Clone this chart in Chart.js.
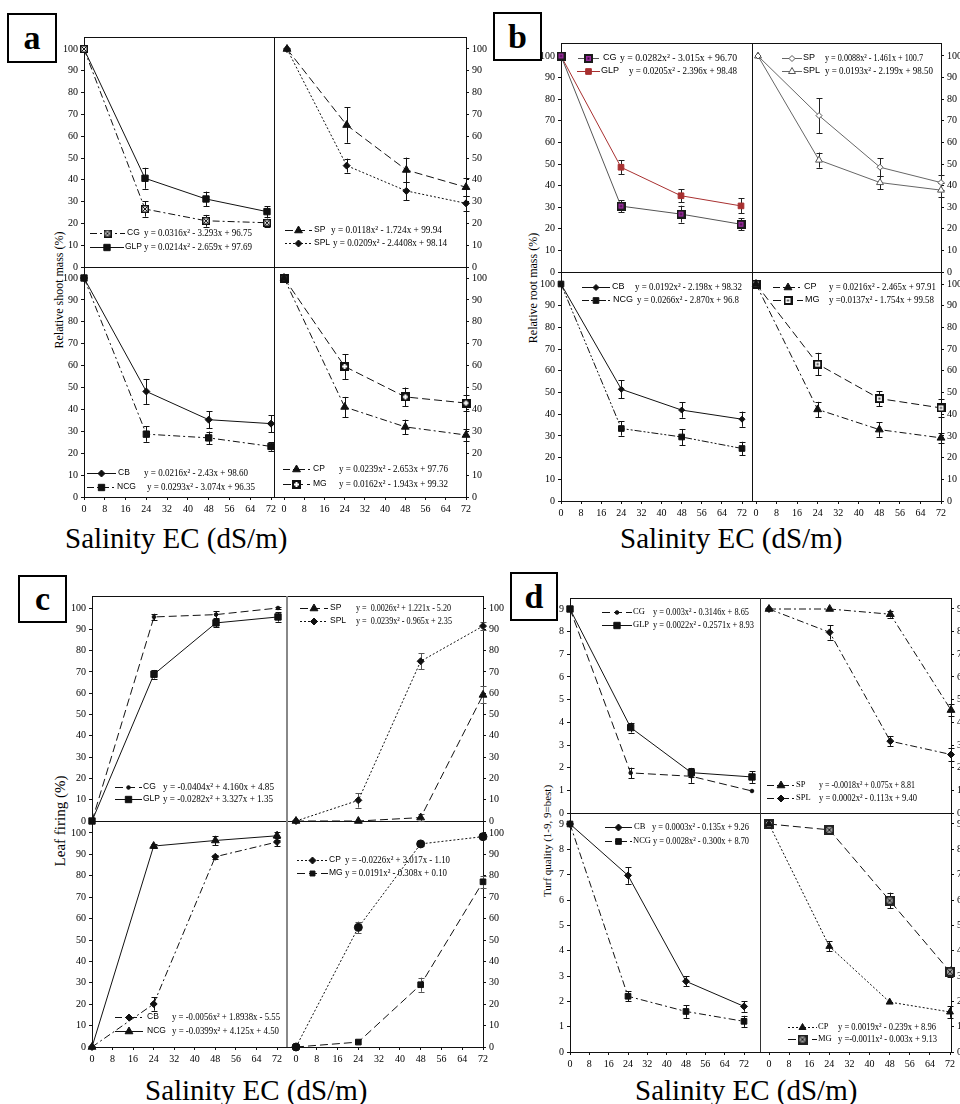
<!DOCTYPE html>
<html><head><meta charset="utf-8">
<script src="https://cdn.jsdelivr.net/npm/chart.js@4.4.1/dist/chart.umd.min.js"></script>
<style>
html,body{margin:0;padding:0;background:#fff;}
body{width:960px;height:1104px;overflow:hidden;position:relative;font-family:"Liberation Serif","Times New Roman",serif;color:#000;}
canvas{position:absolute;}
.box{position:absolute;border:2px solid #000;box-sizing:border-box;display:flex;align-items:center;justify-content:center;font-weight:bold;font-size:34px;line-height:1;background:#fff;}
.xt{position:absolute;font-size:29px;line-height:1;white-space:nowrap;}
.yt{position:absolute;white-space:nowrap;line-height:1;transform:translate(-50%,-50%) rotate(-90deg);}
</style></head><body>
<div class="box" style="left:7px;top:13px;width:50px;height:50px;">a</div>
<div class="box" style="left:493px;top:12px;width:49px;height:49px;">b</div>
<div class="box" style="left:18px;top:575px;width:49px;height:48px;">c</div>
<div class="box" style="left:510px;top:572px;width:48px;height:49px;">d</div>
<div class="xt" style="left:65px;top:524px;">Salinity EC (dS/m)</div>
<div class="xt" style="left:620px;top:524px;">Salinity EC (dS/m)</div>
<div class="xt" style="left:145px;top:1076px;">Salinity EC (dS/m)</div>
<div class="xt" style="left:635px;top:1076px;">Salinity EC (dS/m)</div>
<div class="yt" style="left:59px;top:290px;font-size:12px;">Relative shoot mass (%)</div>
<div class="yt" style="left:533px;top:288px;font-size:12px;">Relative root mass (%)</div>
<div class="yt" style="left:60px;top:821px;font-size:15px;">Leaf firing (%)</div>
<div class="yt" style="left:547px;top:841px;font-size:11px;">Turf quality (1-9, 9=best)</div>
<script>
// ---------------- DATA ----------------
const salinity = [0, 24, 48, 72];
const xTickValues = [0, 8, 16, 24, 32, 40, 48, 56, 64, 72];
const pctTickValues = [0, 10, 20, 30, 40, 50, 60, 70, 80, 90, 100];
const qualTickValues = [0, 1, 2, 3, 4, 5, 6, 7, 8, 9];

// (a) Relative shoot mass (%)
const aCG = [100, 26.6, 21.2, 20.3],  aCGErr = [0, 3.5, 2.7, 1.9];
const aGLP = [100, 40.7, 31.2, 25.4], aGLPErr = [0, 4.8, 3.4, 2.5];
const aSP = [100, 65.1, 44.5, 36.6],  aSPErr = [0, 8.1, 5.7, 4.0];
const aSPL = [100, 46.5, 34.9, 29.2], aSPLErr = [0, 3.2, 4.2, 3.4];
const aCB = [100, 48.2, 35.3, 33.5],  aCBErr = [0, 5.7, 3.8, 3.9];
const aNCG = [100, 28.7, 27.0, 23.1], aNCGErr = [0, 3.5, 2.9, 2.0];
const aCP = [100, 41.1, 32.0, 28.3],  aCPErr = [0, 4.6, 3.3, 2.7];
const aMG = [100, 59.6, 45.7, 42.9],  aMGErr = [0, 5.7, 4.3, 3.8];
// (b) Relative root mass (%)
const bCG = [100, 30.5, 26.8, 22.1],  bCGErr = [0, 2.7, 3.9, 2.7];
const bGLP = [100, 48.5, 35.3, 30.6], bGLPErr = [0, 3.3, 2.9, 3.5];
const bSP = [100, 72.4, 48.5, 41.4],  bSPErr = [0, 8.1, 4.2, 3.5];
const bSPL = [100, 51.8, 41.4, 37.9], bSPLErr = [0, 3.5, 3.1, 3.4];
const bCB = [100, 51.5, 41.9, 37.7],  bCBErr = [0, 4.1, 3.5, 3.5];
const bNCG = [100, 33.4, 29.5, 24.2], bNCGErr = [0, 3.3, 3.7, 3.1];
const bCP = [100, 42.2, 32.9, 29.1],  bCPErr = [0, 3.5, 3.3, 2.3];
const bMG = [100, 63.1, 47.2, 42.9],  bMGErr = [0, 5.2, 3.5, 4.2];
// (c) Leaf firing (%)
const cCG = [0, 95.8, 96.9, 100],   cCGErr = [0, 1.5, 1.7, 0.5];
const cGLP = [0, 68.9, 93.0, 95.8], cGLPErr = [0, 2.0, 2.0, 2.2];
const cSP = [0, 0, 1.6, 59.2],      cSPErr = [0, 0, 1.8, 4.0];
const cSPL = [0, 9.7, 75.0, 91.5],  cSPLErr = [0, 3.4, 3.7, 2.0];
const cCB = [0, 20.1, 88.9, 95.8],  cCBErr = [0, 3.1, 1.0, 1.9];
const cNCG = [0, 93.9, 96.5, 98.7], cNCGErr = [0, 1.0, 2.2, 2.0];
const cCP = [0, 55.9, 94.9, 98.3],  cCPErr = [0, 2.7, 1.0, 1.0];
const cMG = [0, 2.3, 29.1, 77.2],   cMGErr = [0, 0, 3.3, 2.7];
// (d) Turf quality (1-9)
const dCG = [9, 1.77, 1.62, 0.97], dCGErr = [0, 0.23, 0.29, 0];
const dGLP = [9, 3.77, 1.78, 1.59], dGLPErr = [0, 0.22, 0.21, 0.26];
const dSP = [9, 9, 8.77, 4.54],    dSPErr = [0, 0, 0.15, 0.28];
const dSPL = [9, 7.97, 3.17, 2.58], dSPLErr = [0, 0.32, 0.21, 0.27];
const dCB = [9, 6.97, 2.79, 1.8],  dCBErr = [0, 0.33, 0.2, 0.21];
const dNCG = [9, 2.2, 1.6, 1.21],  dNCGErr = [0, 0.2, 0.25, 0.22];
const dCP = [9, 4.17, 1.97, 1.58], dCPErr = [0, 0.2, 0, 0.23];
const dMG = [9, 8.77, 5.98, 3.17], dMGErr = [0, 0.12, 0.31, 0.2];

// ---------------- STYLE HELPERS ----------------
const FONT = '"Liberation Serif","Times New Roman",serif';
const SANS = '"Liberation Sans",Arial,sans-serif';
const DASH = {solid: [], dash: [8, 4], dashDot: [7, 3, 2, 3], dot: [2, 2], dashDotDot: [7, 2, 2, 2, 2, 2]};
const K = '#111';

function mk(size, draw) {
  const c = document.createElement('canvas'); c.width = c.height = size;
  draw(c.getContext('2d'), size); return c;
}
const mBoxX = (s, border, fill, xc, bw) => mk(s, (g) => {
  g.fillStyle = border; g.fillRect(0, 0, s, s);
  g.fillStyle = fill; g.fillRect(bw, bw, s - 2 * bw, s - 2 * bw);
  g.strokeStyle = xc; g.lineWidth = 1; g.beginPath();
  g.moveTo(bw, bw); g.lineTo(s - bw, s - bw); g.moveTo(s - bw, bw); g.lineTo(bw, s - bw); g.stroke();
});
const mBoxPlus = (s) => mk(s, (g) => {
  g.fillStyle = '#111'; g.fillRect(0, 0, s, s);
  g.fillStyle = '#fff'; const c = s / 2;
  g.fillRect(c - 1, 2, 2, s - 4); g.fillRect(2, c - 1, s - 4, 2);
});
const mBoxHollow = (s) => mk(s, (g) => {
  g.fillStyle = '#111'; g.fillRect(0, 0, s, s);
  g.fillStyle = '#fff'; g.fillRect(2, 2, s - 4, s - 4);
  g.fillStyle = '#333'; g.fillRect(s / 2 - 1, s / 2 - 1, 2, 2);
});
const mBoxPurple = (s) => mk(s, (g) => {
  g.fillStyle = '#1a1a1a'; g.fillRect(0, 0, s, s);
  g.fillStyle = '#9a2a9f'; g.fillRect(2, 2, s - 4, s - 4);
  g.fillStyle = '#3a0a3a'; g.fillRect(s / 2 - 1, s / 2 - 1, 2, 2);
});

function sty(dash, pointStyle, radius, o = {}) {
  return {
    borderColor: o.color || K, borderWidth: 1, borderDash: dash,
    pointStyle, pointRadius: radius, pointHoverRadius: radius,
    pointBackgroundColor: o.fill || o.color || K, pointBorderColor: o.stroke || o.color || K,
    pointBorderWidth: o.bw ?? 1, fill: false, tension: 0, clip: false, errColor: o.err || K
  };
}
function series(label, vals, errs, style) {
  return Object.assign({label, data: salinity.map((x, i) => ({x, y: vals[i]})), errs}, style);
}

// ---------------- PLUGINS ----------------
function errPlugin() {
  return { id: 'errbars', beforeDatasetsDraw(chart) {
    const ctx = chart.ctx;
    chart.data.datasets.forEach((ds, di) => {
      if (!ds.errs) return;
      const meta = chart.getDatasetMeta(di);
      const ys = chart.scales[meta.yAxisID];
      ctx.save(); ctx.strokeStyle = ds.errColor; ctx.lineWidth = 1; ctx.setLineDash([]);
      ds.errs.forEach((e, i) => {
        if (!e) return;
        const p = meta.data[i]; const v = ds.data[i].y;
        const y1 = ys.getPixelForValue(v + e), y2 = ys.getPixelForValue(v - e);
        const x = Math.round(p.x) + 0.5;
        ctx.beginPath();
        ctx.moveTo(x, y1); ctx.lineTo(x, y2);
        ctx.moveTo(x - 3, Math.round(y1) + .5); ctx.lineTo(x + 3, Math.round(y1) + .5);
        ctx.moveTo(x - 3, Math.round(y2) + .5); ctx.lineTo(x + 3, Math.round(y2) + .5);
        ctx.stroke();
      });
      ctx.restore();
    });
  }};
}
function framePlugin(top, left, divColor, divWidth) {
  return { id: 'frame', afterDraw(chart) {
    const a = chart.chartArea, ctx = chart.ctx;
    ctx.save(); ctx.setLineDash([]);
    if (top) { ctx.strokeStyle = K; ctx.lineWidth = 1; ctx.beginPath();
      ctx.moveTo(a.left, Math.round(a.top) + .5); ctx.lineTo(a.right, Math.round(a.top) + .5); ctx.stroke(); }
    if (left) { ctx.strokeStyle = divColor; ctx.lineWidth = divWidth; ctx.beginPath();
      const x = divWidth % 2 ? Math.round(a.left) + .5 : Math.round(a.left);
      ctx.moveTo(x, a.top); ctx.lineTo(x, a.bottom); ctx.stroke(); }
    ctx.restore();
  }};
}
function drawMarker(ctx, ds, r, x, y) {
  const ps = r.ps || ds.pointStyle, rad = r.pr || ds.pointRadius;
  const opts = {pointStyle: ps, radius: rad, rotation: 0, borderWidth: ds.pointBorderWidth};
  ctx.fillStyle = ds.pointBackgroundColor; ctx.strokeStyle = ds.pointBorderColor; ctx.lineWidth = ds.pointBorderWidth;
  if (Chart.helpers && Chart.helpers.drawPoint) { Chart.helpers.drawPoint(ctx, opts, x, y); return; }
  if (typeof ps === 'object') { ctx.drawImage(ps, x - ps.width / 2, y - ps.height / 2); return; }
  ctx.beginPath(); ctx.arc(x, y, rad, 0, Math.PI * 2); ctx.fill();
}
function legendPlugin(rows, offX, offY, lg) {
  return { id: 'eqLegend', afterDatasetsDraw(chart) {
    const ctx = chart.ctx;
    rows.forEach(r => {
      const ds = chart.data.datasets[r.ds];
      const y = r.y - offY, sx = r.sx - offX;
      ctx.save();
      ctx.strokeStyle = ds.borderColor; ctx.lineWidth = 1; ctx.setLineDash(ds.borderDash);
      ctx.beginPath(); ctx.moveTo(sx, Math.round(y) + .5); ctx.lineTo(sx + r.sw, Math.round(y) + .5); ctx.stroke();
      ctx.setLineDash([]);
      drawMarker(ctx, ds, r, sx + r.sw / 2, Math.round(y) + .5);
      ctx.fillStyle = '#000'; ctx.textBaseline = 'middle'; ctx.textAlign = 'left';
      ctx.font = lg.labelSize + 'px ' + lg.labelFont;
      ctx.fillText(ds.label, r.lx - offX, y);
      ctx.font = lg.size + 'px ' + FONT;
      const w = ctx.measureText(r.eq).width;
      const k = r.ee ? (r.ee - r.ex) / w : 1;
      ctx.translate(r.ex - offX, y); ctx.scale(k, 1);
      ctx.fillText(r.eq, 0, 0);
      ctx.restore();
    });
  }};
}

// ---------------- SUBPLOT FACTORY ----------------
function makeSub(g, datasets, legendRows, lg, yTicks, divColor, divWidth) {
  const left = g.side === 'left', bottom = g.row === 'bottom';
  const AX = 34, PAD = 10, XH = 24;
  const mL = left ? AX : PAD, mR = left ? PAD : AX, mT = PAD, mB = bottom ? XH : PAD;
  const cv = document.createElement('canvas');
  const W = g.R - g.L + mL + mR, H = g.B - g.T + mT + mB;
  cv.width = W; cv.height = H;
  cv.style.left = (g.L - mL) + 'px'; cv.style.top = (g.T - mT) + 'px';
  cv.style.width = W + 'px'; cv.style.height = H + 'px';
  document.body.appendChild(cv);
  const xs = (g.x72 - g.x0) / 72;
  const ymaxTick = yTicks[yTicks.length - 1];
  const ys = (g.B - g.yTop) / ymaxTick;
  const tickFont = {family: FONT, size: 10};
  new Chart(cv, {
    type: 'line',
    data: {datasets},
    options: {
      responsive: false, animation: false, devicePixelRatio: 1,
      layout: {padding: {left: left ? 0 : mL, right: left ? mR : 0, top: mT, bottom: bottom ? 0 : mB}},
      plugins: {legend: {display: false}, tooltip: {enabled: false}},
      scales: {
        x: {
          type: 'linear', position: 'bottom',
          min: (g.L - g.x0) / xs, max: (g.R - g.x0) / xs,
          afterBuildTicks: sc => { sc.ticks = xTickValues.map(v => ({value: v})); },
          afterFit: sc => { sc.height = bottom ? XH : 0; },
          ticks: {display: bottom, font: tickFont, color: '#000', padding: 3, maxRotation: 0, autoSkip: false},
          grid: {display: true, drawOnChartArea: false, drawTicks: bottom, tickLength: 3, color: K},
          border: {display: true, color: K, width: 1}
        },
        y: {
          type: 'linear', position: left ? 'left' : 'right',
          min: 0, max: (g.B - g.T) / ys,
          afterBuildTicks: sc => { sc.ticks = yTicks.map(v => ({value: v})); },
          afterFit: sc => { sc.width = AX; },
          ticks: {font: tickFont, color: '#000', padding: 3, autoSkip: false},
          grid: {display: true, drawOnChartArea: false, drawTicks: true, tickLength: 3, color: K},
          border: {display: true, color: K, width: 1}
        }
      }
    },
    plugins: [errPlugin(), framePlugin(!bottom, !left, divColor, divWidth),
              legendPlugin(legendRows, g.L - mL, g.T - mT, lg)]
  });
}

// ---------------- GEOMETRY (page pixels) ----------------
const G = {
  aTL: {L: 84, R: 274, T: 37, B: 267, x0: 84, x72: 267, yTop: 49, side: 'left', row: 'top'},
  aTR: {L: 274, R: 466, T: 37, B: 267, x0: 287, x72: 466, yTop: 49, side: 'right', row: 'top'},
  aBL: {L: 84, R: 274, T: 267, B: 497, x0: 84, x72: 271, yTop: 278, side: 'left', row: 'bottom'},
  aBR: {L: 274, R: 466, T: 267, B: 497, x0: 284, x72: 466, yTop: 278, side: 'right', row: 'bottom'},
  bTL: {L: 561, R: 752, T: 43, B: 272, x0: 561, x72: 741, yTop: 56, side: 'left', row: 'top'},
  bTR: {L: 752, R: 941, T: 43, B: 272, x0: 758, x72: 941, yTop: 56, side: 'right', row: 'top'},
  bBL: {L: 561, R: 752, T: 272, B: 501, x0: 561, x72: 742, yTop: 284, side: 'left', row: 'bottom'},
  bBR: {L: 752, R: 941, T: 272, B: 501, x0: 756, x72: 941, yTop: 284, side: 'right', row: 'bottom'},
  cTL: {L: 92, R: 287, T: 596, B: 821, x0: 92, x72: 278, yTop: 608, side: 'left', row: 'top'},
  cTR: {L: 287, R: 483, T: 596, B: 821, x0: 296, x72: 483, yTop: 608, side: 'right', row: 'top'},
  cBL: {L: 92, R: 287, T: 821, B: 1047, x0: 92, x72: 277, yTop: 833, side: 'left', row: 'bottom'},
  cBR: {L: 287, R: 483, T: 821, B: 1047, x0: 296, x72: 483, yTop: 833, side: 'right', row: 'bottom'},
  dTL: {L: 570, R: 760, T: 598, B: 813, x0: 570, x72: 752, yTop: 609, side: 'left', row: 'top'},
  dTR: {L: 760, R: 951, T: 598, B: 813, x0: 769, x72: 951, yTop: 609, side: 'right', row: 'top'},
  dBL: {L: 570, R: 760, T: 813, B: 1052, x0: 570, x72: 744, yTop: 824, side: 'left', row: 'bottom'},
  dBR: {L: 760, R: 951, T: 813, B: 1052, x0: 769, x72: 950, yTop: 824, side: 'right', row: 'bottom'}
};

// markers
const M = {
  aCG: mBoxX(8, '#111', '#e8e8e8', '#111', 1.5),
  aMG: mBoxPlus(9),
  bCG: mBoxPurple(9),
  bMG: mBoxHollow(9),
  dMG: mBoxX(10, '#222', '#9a9a9a', '#222', 2)
};
const LG = {
  a: {size: 10.5, labelSize: 8.5, labelFont: SANS},
  b: {size: 11, labelSize: 9, labelFont: SANS},
  c: {size: 10.5, labelSize: 8.5, labelFont: SANS},
  d: {size: 10, labelSize: 8.5, labelFont: FONT}
};

// ---------------- PANEL a ----------------
makeSub(G.aTL, [
  series('CG', aCG, aCGErr, sty(DASH.dashDot, M.aCG, 5)),
  series('GLP', aGLP, aGLPErr, sty(DASH.solid, 'rect', 4.5))
], [
  {ds: 0, y: 233, sx: 90, sw: 35, lx: 127, ex: 144, ee: 252, eq: 'y = 0.0316x² - 3.293x + 96.75'},
  {ds: 1, y: 247, sx: 90, sw: 34, lx: 125, ex: 144, ee: 252, eq: 'y = 0.0214x² - 2.659x + 97.69'}
], LG.a, pctTickValues, K, 1);
makeSub(G.aTR, [
  series('SP', aSP, aSPErr, sty(DASH.dash, 'triangle', 4.5)),
  series('SPL', aSPL, aSPLErr, sty(DASH.dot, 'rectRot', 3.5))
], [
  {ds: 0, y: 230, sx: 285, sw: 27, lx: 314, ex: 331, ee: 442, eq: 'y = 0.0118x² - 1.724x + 99.94'},
  {ds: 1, y: 243, sx: 285, sw: 27, lx: 314, ex: 333, ee: 447, eq: 'y = 0.0209x² - 2.4408x + 98.14'}
], LG.a, pctTickValues, K, 1);
makeSub(G.aBL, [
  series('CB', aCB, aCBErr, sty(DASH.solid, 'rectRot', 3.5)),
  series('NCG', aNCG, aNCGErr, sty(DASH.dashDot, 'rect', 4.5))
], [
  {ds: 0, y: 473, sx: 87, sw: 29, lx: 118, ex: 144, ee: 248, eq: 'y = 0.0216x² - 2.43x + 98.60'},
  {ds: 1, y: 487, sx: 87, sw: 29, lx: 117, ex: 147, ee: 255, eq: 'y = 0.0293x² - 3.074x + 96.35'}
], LG.a, pctTickValues, K, 1);
makeSub(G.aBR, [
  series('CP', aCP, aCPErr, sty(DASH.dashDot, 'triangle', 4.5)),
  series('MG', aMG, aMGErr, sty(DASH.dash, M.aMG, 5))
], [
  {ds: 0, y: 469, sx: 283, sw: 27, lx: 313, ex: 339, ee: 448, eq: 'y = 0.0239x² - 2.653x + 97.76'},
  {ds: 1, y: 484, sx: 283, sw: 27, lx: 313, ex: 339, ee: 448, eq: 'y = 0.0162x² - 1.943x + 99.32'}
], LG.a, pctTickValues, K, 1);

// ---------------- PANEL b ----------------
makeSub(G.bTL, [
  series('CG', bCG, bCGErr, sty(DASH.solid, M.bCG, 5, {color: '#555', err: '#222'})),
  series('GLP', bGLP, bGLPErr, sty(DASH.solid, 'rect', 4, {color: '#a83030', err: '#222'}))
], [
  {ds: 0, y: 58, sx: 578, sw: 21, lx: 603, ex: 620, ee: 737, eq: 'y = 0.0282x² - 3.015x + 96.70'},
  {ds: 1, y: 71, sx: 577, sw: 23, lx: 601, ex: 629, ee: 737, eq: 'y = 0.0205x² - 2.396x + 98.48'}
], LG.b, pctTickValues, K, 1);
makeSub(G.bTR, [
  series('SP', bSP, bSPErr, sty(DASH.solid, 'rectRot', 3, {color: '#666', fill: '#fff', stroke: '#555', err: '#222'})),
  series('SPL', bSPL, bSPLErr, sty(DASH.solid, 'triangle', 4, {color: '#666', fill: '#fff', stroke: '#555', err: '#222'}))
], [
  {ds: 0, y: 58, sx: 782, sw: 20, lx: 803, ex: 825, ee: 923, eq: 'y = 0.0088x² - 1.461x + 100.7'},
  {ds: 1, y: 71, sx: 782, sw: 20, lx: 803, ex: 825, ee: 933, eq: 'y = 0.0193x² - 2.199x + 98.50'}
], LG.b, pctTickValues, K, 1);
makeSub(G.bBL, [
  series('CB', bCB, bCBErr, sty(DASH.solid, 'rectRot', 3)),
  series('NCG', bNCG, bNCGErr, sty(DASH.dashDotDot, 'rect', 4))
], [
  {ds: 0, y: 287, sx: 582, sw: 28, lx: 612, ex: 635, ee: 742, eq: 'y = 0.0192x² - 2.198x + 98.32'},
  {ds: 1, y: 300, sx: 582, sw: 28, lx: 613, ex: 637, ee: 739, eq: 'y = 0.0266x² - 2.870x + 96.8'}
], LG.b, pctTickValues, K, 1);
makeSub(G.bBR, [
  series('CP', bCP, bCPErr, sty(DASH.dashDot, 'triangle', 4.5)),
  series('MG', bMG, bMGErr, sty(DASH.dash, M.bMG, 5))
], [
  {ds: 0, y: 287, sx: 773, sw: 30, lx: 804, ex: 829, ee: 936, eq: 'y = 0.0216x² - 2.465x + 97.91'},
  {ds: 1, y: 300, sx: 773, sw: 30, lx: 805, ex: 829, ee: 934, eq: 'y =0.0137x² - 1.754x + 99.58'}
], LG.b, pctTickValues, K, 1);

// ---------------- PANEL c ----------------
makeSub(G.cTL, [
  series('CG', cCG, cCGErr, sty(DASH.dash, 'circle', 1.8)),
  series('GLP', cGLP, cGLPErr, sty(DASH.solid, 'rect', 4.5))
], [
  {ds: 0, y: 787, sx: 115, sw: 27, lx: 143, ex: 163, ee: 274, eq: 'y = -0.0404x² + 4.160x + 4.85'},
  {ds: 1, y: 799, sx: 115, sw: 27, lx: 143, ex: 163, ee: 273, eq: 'y = -0.0282x² + 3.327x + 1.35'}
], LG.c, pctTickValues, '#888', 2);
makeSub(G.cTR, [
  series('SP', cSP, cSPErr, sty(DASH.dash, 'triangle', 4.5, {err: '#555'})),
  series('SPL', cSPL, cSPLErr, sty(DASH.dot, 'rectRot', 3.5, {err: '#555'}))
], [
  {ds: 0, y: 608, sx: 300, sw: 28, lx: 330, ex: 356, ee: 451, eq: 'y =  0.0026x² + 1.221x - 5.20'},
  {ds: 1, y: 621, sx: 300, sw: 28, lx: 330, ex: 356, ee: 452, eq: 'y =  0.0239x² - 0.965x + 2.35'}
], LG.c, pctTickValues, '#888', 2);
makeSub(G.cBL, [
  series('CB', cCB, cCBErr, sty(DASH.dashDot, 'rectRot', 3.5)),
  series('NCG', cNCG, cNCGErr, sty(DASH.solid, 'triangle', 4.5))
], [
  {ds: 0, y: 1017, sx: 115, sw: 28, lx: 147, ex: 172, ee: 280, eq: 'y = -0.0056x² + 1.8938x - 5.55'},
  {ds: 1, y: 1031, sx: 115, sw: 28, lx: 147, ex: 172, ee: 279, eq: 'y = -0.0399x² + 4.125x + 4.50'}
], LG.c, pctTickValues, '#888', 2);
makeSub(G.cBR, [
  series('CP', cCP, cCPErr, sty(DASH.dot, 'circle', 4, {err: '#555'})),
  series('MG', cMG, cMGErr, sty(DASH.dash, 'rect', 4, {err: '#555'}))
], [
  {ds: 0, y: 860, sx: 297, sw: 31, lx: 329, ex: 345, ee: 450, ps: 'rectRot', pr: 3.5, eq: 'y = -0.0226x² + 3.017x - 1.10'},
  {ds: 1, y: 873, sx: 297, sw: 31, lx: 329, ex: 345, ee: 447, pr: 3.5, eq: 'y = 0.0191x² - 0.308x + 0.10'}
], LG.c, pctTickValues, '#888', 2);

// ---------------- PANEL d ----------------
makeSub(G.dTL, [
  series('CG', dCG, dCGErr, sty(DASH.dash, 'circle', 1.8)),
  series('GLP', dGLP, dGLPErr, sty(DASH.solid, 'rect', 4.5))
], [
  {ds: 0, y: 612, sx: 602, sw: 30, lx: 633, ex: 653, ee: 749, eq: 'y = 0.003x² - 0.3146x + 8.65'},
  {ds: 1, y: 625, sx: 602, sw: 30, lx: 633, ex: 653, ee: 754, eq: 'y = 0.0022x² - 0.2571x + 8.93'}
], LG.d, qualTickValues, '#333', 1);
makeSub(G.dTR, [
  series('SP', dSP, dSPErr, sty(DASH.dashDot, 'triangle', 4.5)),
  series('SPL', dSPL, dSPLErr, sty(DASH.dashDot, 'rectRot', 3.5))
], [
  {ds: 0, y: 785, sx: 767, sw: 28, lx: 796, ex: 819, ee: 915, eq: 'y = -0.0018x² + 0.075x + 8.81'},
  {ds: 1, y: 798, sx: 767, sw: 28, lx: 796, ex: 819, ee: 917, eq: 'y = 0.0002x² - 0.113x + 9.40'}
], LG.d, qualTickValues, '#333', 1);
makeSub(G.dBL, [
  series('CB', dCB, dCBErr, sty(DASH.solid, 'rectRot', 3.5)),
  series('NCG', dNCG, dNCGErr, sty(DASH.dashDot, 'rect', 4))
], [
  {ds: 0, y: 827, sx: 605, sw: 27, lx: 634, ex: 652, ee: 749, eq: 'y = 0.0003x² - 0.135x + 9.26'},
  {ds: 1, y: 841, sx: 605, sw: 27, lx: 633, ex: 653, ee: 749, eq: 'y = 0.0028x² - 0.300x + 8.70'}
], LG.d, qualTickValues, '#333', 1);
makeSub(G.dBR, [
  series('CP', dCP, dCPErr, sty(DASH.dot, 'triangle', 4)),
  series('MG', dMG, dMGErr, sty(DASH.dash, M.dMG, 5))
], [
  {ds: 0, y: 1027, sx: 788, sw: 29, lx: 818, ex: 838, ee: 936, eq: 'y = 0.0019x² - 0.239x + 8.96'},
  {ds: 1, y: 1039, sx: 788, sw: 29, lx: 818, ex: 838, ee: 937, eq: 'y =-0.0011x² - 0.003x + 9.13'}
], LG.d, qualTickValues, '#333', 1);
</script>
</body></html>
